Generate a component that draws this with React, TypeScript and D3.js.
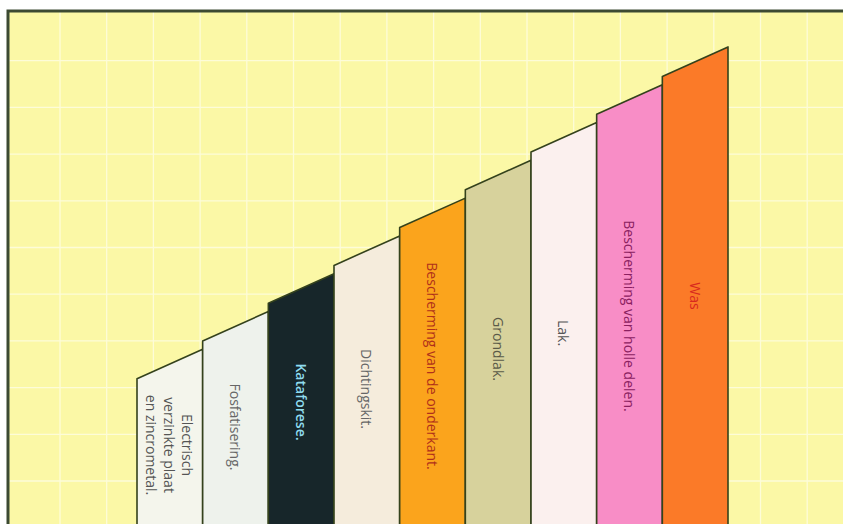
import * as d3 from "d3";

const WIDTH = 843;
const HEIGHT = 524;

// stages of the corrosion protection, from bottom layer to top layer
const stages = [
  "Electrisch verzinkte plaat en zincrometal.",
  "Fosfatisering.",
  "Kataforese.",
  "Dichtingskit.",
  "Bescherming van de onderkant.",
  "Grondlak.",
  "Lak.",
  "Bescherming van holle delen.",
  "Was",
];
const labelLines = [
  ["Electrisch", "verzinkte plaat", "en zincrometal."],
  ["Fosfatisering."],
  ["Kataforese."],
  ["Dichtingskit."],
  ["Bescherming van de onderkant."],
  ["Grondlak."],
  ["Lak."],
  ["Bescherming van holle delen."],
  ["Was"],
];
// height of each bar at its left and right edge (protection level)
const levelLeft = [4, 5, 6, 7, 8, 9, 10, 11, 12];
const levelRight = [4.78, 5.78, 6.78, 7.78, 8.78, 9.78, 10.78, 11.78, 12.78];

const barColors = ["#f4f5ec", "#eef2ec", "#17262a", "#f5ecdc", "#fba41c", "#d7d29c", "#fbf0ee", "#f88dc6", "#fb7a28"];
const textColors = ["#555", "#666", "#8fdcef", "#666", "#b0301a", "#5a5a48", "#555", "#8a2060", "#d8281e"];
// vertical centre of each label
const labelCenter = [445, 427, 402, 389, 366, 349, 333, 316, 296];

const FRAME = { left: 8, top: 11 };
const GRID = 46.7;

export default function App() {
  const x = d3.scaleBand<string>().domain(stages).range([137, 728]).padding(0);
  const y = d3.scaleLinear().domain([0, 12]).range([530, 76.4]);

  const vLines = d3.range(60, WIDTH, GRID);
  const hLines = d3.range(60.7, HEIGHT, GRID);

  return (
    <svg width={WIDTH} height={HEIGHT} style={{ position: "absolute", left: 0, top: 0, background: "#fff" }}>
      <rect x={FRAME.left} y={FRAME.top} width={WIDTH} height={HEIGHT} fill="#fbf8a6" />
      {vLines.map((v) => (
        <line key={"v" + v} x1={v} x2={v} y1={FRAME.top} y2={HEIGHT} stroke="#fdfcd8" strokeWidth={1.3} />
      ))}
      {hLines.map((h) => (
        <line key={"h" + h} x1={FRAME.left} x2={WIDTH} y1={h} y2={h} stroke="#fdfcd8" strokeWidth={1.3} />
      ))}
      <path
        d={`M${FRAME.left},${HEIGHT + 5}V${FRAME.top}H${WIDTH + 5}`}
        fill="none"
        stroke="#3c4a32"
        strokeWidth={3}
      />

      {stages.map((s, i) => {
        const x0 = x(s)!;
        const x1 = x0 + x.bandwidth();
        const base = y(0);
        const path = d3.path();
        path.moveTo(x0, base);
        path.lineTo(x0, y(levelLeft[i]));
        path.lineTo(x1, y(levelRight[i]));
        path.lineTo(x1, base);
        path.closePath();
        return (
          <path key={s} d={path.toString()} fill={barColors[i]} stroke="#34421c" strokeWidth={1.6} strokeLinejoin="round" />
        );
      })}

      {stages.map((s, i) => {
        const cx = x(s)! + x.bandwidth() / 2;
        const lines = labelLines[i];
        const lineH = 18;
        return (
          <text
            key={"t" + s}
            transform={`translate(${cx},${labelCenter[i]}) rotate(90)`}
            textAnchor="middle"
            fontFamily="'Open Sans', sans-serif"
            fontSize={14}
            fontWeight={i === 2 ? 600 : 400}
            fill={textColors[i]}
          >
            {lines.map((l, j) => (
              <tspan key={j} x={0} y={(j - (lines.length - 1) / 2) * lineH} dominantBaseline="central">
                {l}
              </tspan>
            ))}
          </text>
        );
      })}
    </svg>
  );
}
